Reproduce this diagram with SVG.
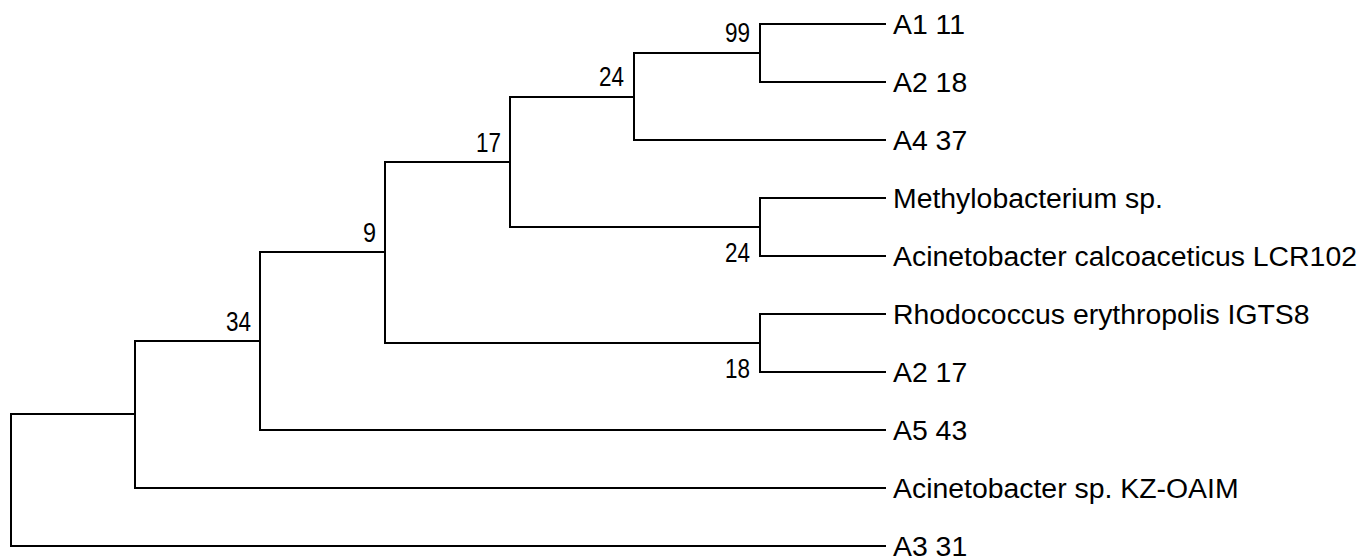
<svg xmlns="http://www.w3.org/2000/svg" width="1371" height="558" viewBox="0 0 1371 558">
<style>
.e{fill:none;stroke:#000;stroke-width:2;stroke-linecap:square}
.leaf{font-family:"Liberation Sans",Arial,sans-serif;font-size:28.4px;fill:#000}
.bs{font-family:"Liberation Sans",Arial,sans-serif;font-size:28px;fill:#000;text-anchor:end}
</style>
<rect width="1371" height="558" fill="#fff"/>
<g id="connectors">
<path class="e" d="M885 24 H760 V82 H885"/>
<path class="e" d="M760 53 H634 V140 H885"/>
<path class="e" d="M885 198 H760 V256 H885"/>
<path class="e" d="M634 97 H510 V227 H760"/>
<path class="e" d="M885 314 H760 V372 H885"/>
<path class="e" d="M510 162 H385 V343 H760"/>
<path class="e" d="M385 252 H260 V430 H885"/>
<path class="e" d="M260 341 H135 V488 H885"/>
<path class="e" d="M135 414 H11 V546 H885"/>
</g>
<g id="node-99"><text class="bs" x="750" y="42" textLength="25" lengthAdjust="spacingAndGlyphs">99</text></g>
<g id="node-24a"><text class="bs" x="624" y="86" textLength="25" lengthAdjust="spacingAndGlyphs">24</text></g>
<g id="node-17"><text class="bs" x="501" y="152" textLength="25" lengthAdjust="spacingAndGlyphs">17</text></g>
<g id="node-9"><text class="bs" x="376" y="242" textLength="13" lengthAdjust="spacingAndGlyphs">9</text></g>
<g id="node-34"><text class="bs" x="251" y="331" textLength="25" lengthAdjust="spacingAndGlyphs">34</text></g>
<g id="node-24b"><text class="bs" x="750" y="262" textLength="25" lengthAdjust="spacingAndGlyphs">24</text></g>
<g id="node-18"><text class="bs" x="750" y="378" textLength="25" lengthAdjust="spacingAndGlyphs">18</text></g>
<g id="leaf-A1-11"><text class="leaf" x="893" y="34">A1 11</text></g>
<g id="leaf-A2-18"><text class="leaf" x="893" y="92">A2 18</text></g>
<g id="leaf-A4-37"><text class="leaf" x="893" y="150">A4 37</text></g>
<g id="leaf-methylo"><text class="leaf" x="893" y="208">Methylobacterium sp.</text></g>
<g id="leaf-acin-calco"><text class="leaf" x="893" y="266">Acinetobacter calcoaceticus LCR102</text></g>
<g id="leaf-rhodo"><text class="leaf" x="893" y="324">Rhodococcus erythropolis IGTS8</text></g>
<g id="leaf-A2-17"><text class="leaf" x="893" y="382">A2 17</text></g>
<g id="leaf-A5-43"><text class="leaf" x="893" y="440">A5 43</text></g>
<g id="leaf-acin-kz"><text class="leaf" x="893" y="498">Acinetobacter sp. KZ-OAIM</text></g>
<g id="leaf-A3-31"><text class="leaf" x="893" y="556">A3 31</text></g>
</svg>
